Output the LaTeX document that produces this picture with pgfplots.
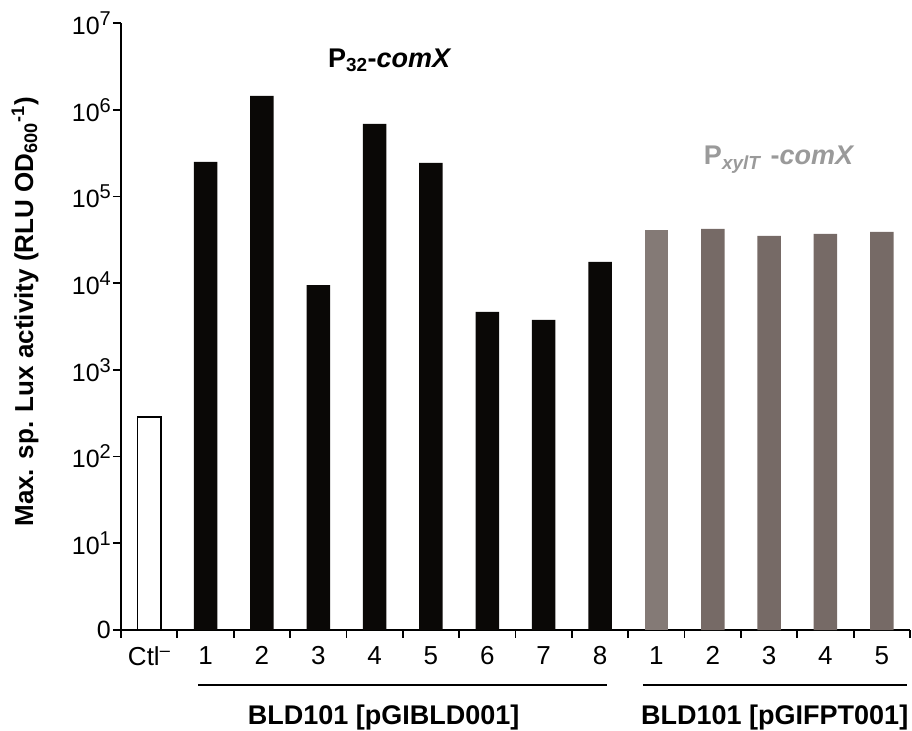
\documentclass[border=0pt]{standalone}
\usepackage{fontspec}
\setmainfont{Liberation Sans}
\usepackage{pgfplots}
\pgfplotsset{compat=1.18}
\definecolor{barblack}{HTML}{0A0806}
\definecolor{grayA}{HTML}{847A76}
\definecolor{grayB}{HTML}{766A66}
\definecolor{labgray}{HTML}{9A9A9A}
\newcommand{\yl}[1]{\hbox{\fontsize{25bp}{30bp}\selectfont 10\raisebox{9bp}{\fontsize{20bp}{20bp}\selectfont #1}}}
\begin{document}
\begin{tikzpicture}
\useasboundingbox (-121bp,-101bp) rectangle (791bp,630bp);
\begin{axis}[
 scale only axis, width=789bp, height=607bp,
 at={(0,0)}, anchor=south west,
 ymode=log, ymin=1, ymax=1e7, xmin=-0.5, xmax=13.5,
 axis x line*=bottom, axis y line*=left,
 axis line style={line width=1.8bp, -},
 clip=false,
 ytick={1,10,100,1000,10000,100000,1000000,10000000},
 yticklabels={\hbox{\fontsize{25bp}{30bp}\selectfont 0},\yl{1},\yl{2},\yl{3},\yl{4},\yl{5},\yl{6},\yl{7}},
 yticklabel style={anchor=east, inner sep=2bp},
 yminorticks=false,
 xtick={0,...,13},
 xticklabels={Ctl\textsuperscript{–},1,2,3,4,5,6,7,8,1,2,3,4,5},
 minor xtick={-0.5,0.5,...,13.5},
 tick align=outside, major tick length=8bp, minor tick length=8bp,
 every tick/.style={line width=1.8bp, black},
 every major x tick/.append style={draw=none},
 xticklabel style={font=\fontsize{26bp}{30bp}\selectfont, yshift=-5bp},
 every axis y label/.style={at={(axis description cs:0,0.524)}, xshift=-96bp, rotate=90, anchor=center},
 ylabel={\bfseries\fontsize{26bp}{30bp}\selectfont Max. sp. Lux activity (RLU OD\textsubscript{600}\textsuperscript{-1})},
]
\addplot[ybar, bar width=23.5bp, bar shift=0pt, fill=white, draw=black, line width=1.5bp] coordinates {(0,286)};
\addplot[ybar, bar width=23.5bp, bar shift=0pt, fill=barblack, draw=none] coordinates {(1,2.5e5)(2,1.44e6)(3,9.5e3)(4,6.86e5)(5,2.43e5)(6,4.65e3)(7,3.76e3)(8,1.76e4)};
\addplot[ybar, bar width=23.5bp, bar shift=0pt, fill=grayA, draw=none] coordinates {(9,4.11e4)};
\addplot[ybar, bar width=23.5bp, bar shift=0pt, fill=grayB, draw=none] coordinates {(10,4.22e4)(11,3.5e4)(12,3.69e4)(13,3.89e4)};
\node[font=\bfseries\fontsize{27bp}{31bp}\selectfont] at (axis cs:4.27,3.72e6) {P\textsubscript{32}-\textit{comX}};
\node[font=\bfseries\fontsize{27bp}{31bp}\selectfont, text=labgray] at (axis cs:11.18,2.63e5) {P\textsubscript{\textit{xylT}}\,\,-\textit{comX}};
\draw[line width=1.8bp] ([yshift=-55bp]axis cs:0.87,1) -- ([yshift=-55bp]axis cs:8.13,1);
\draw[line width=1.8bp] ([yshift=-55bp]axis cs:8.76,1) -- ([yshift=-55bp]axis cs:13.45,1);
\node[font=\bfseries\fontsize{27bp}{31bp}\selectfont] at ([yshift=-88bp]axis cs:4.16,1) {BLD101 [pGIBLD001]};
\node[font=\bfseries\fontsize{27bp}{31bp}\selectfont] at ([yshift=-88bp]axis cs:11.1,1) {BLD101 [pGIFPT001]};
\end{axis}
\end{tikzpicture}
\end{document}
